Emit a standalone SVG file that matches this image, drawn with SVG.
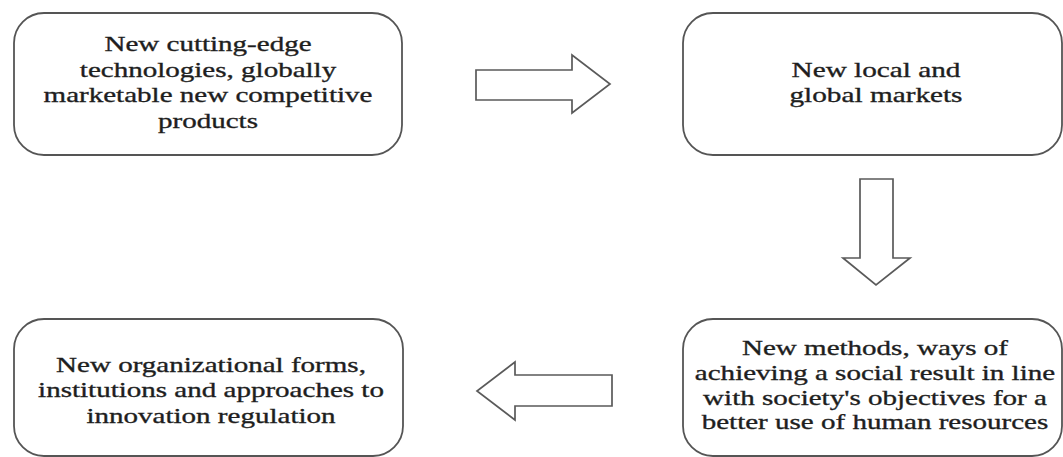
<svg xmlns="http://www.w3.org/2000/svg" width="1063" height="457" viewBox="0 0 1063 457">
<style>
.box{fill:#fff;stroke:#555;stroke-width:1.8}
.arr{fill:#fff;stroke:#5a5a5a;stroke-width:1.7;stroke-linejoin:miter}
.t{font-family:"Liberation Serif","Times New Roman",serif;font-size:22px;fill:#1e1e1e;stroke:#1e1e1e;stroke-width:0.35;text-anchor:middle}
</style>
<rect width="1063" height="457" fill="#fff"/>
<g id="connectors">
<path class="arr" d="M476,70 H572 V55 L610,84 L572,113 V100 H476 Z"/>
<path class="arr" d="M860,179 H893 V258 H910 L876,285 L843,258 H860 Z"/>
<path class="arr" d="M612,375 H515 V362 L477,391 L515,420 V406 H612 Z"/>
</g>
<g id="node1">
<rect class="box" x="14" y="13" width="388" height="142" rx="30"/>
<g transform="translate(208,0) scale(1.32,1)">
<text class="t" x="0" y="51">New cutting-edge</text>
<text class="t" x="0" y="77">technologies, globally</text>
<text class="t" x="0" y="102.5">marketable new competitive</text>
<text class="t" x="0" y="128">products</text>
</g>
</g>
<g id="node2">
<rect class="box" x="683" y="13" width="379" height="142" rx="30"/>
<g transform="translate(876,0) scale(1.33,1)">
<text class="t" x="0" y="77">New local and</text>
<text class="t" x="0" y="102">global markets</text>
</g>
</g>
<g id="node3">
<rect class="box" x="683" y="319" width="379" height="137" rx="30"/>
<g transform="translate(875,0) scale(1.32,1)">
<text class="t" x="0" y="355">New methods, ways of</text>
<text class="t" x="0" y="380">achieving a social result in line</text>
<text class="t" x="0" y="405">with society's objectives for a</text>
<text class="t" x="0" y="429.5">better use of human resources</text>
</g>
</g>
<g id="node4">
<rect class="box" x="14" y="319" width="389" height="137" rx="30"/>
<g transform="translate(211,0) scale(1.32,1)">
<text class="t" x="0" y="372">New organizational forms,</text>
<text class="t" x="0" y="397.5">institutions and approaches to</text>
<text class="t" x="0" y="423">innovation regulation</text>
</g>
</g>
</svg>
